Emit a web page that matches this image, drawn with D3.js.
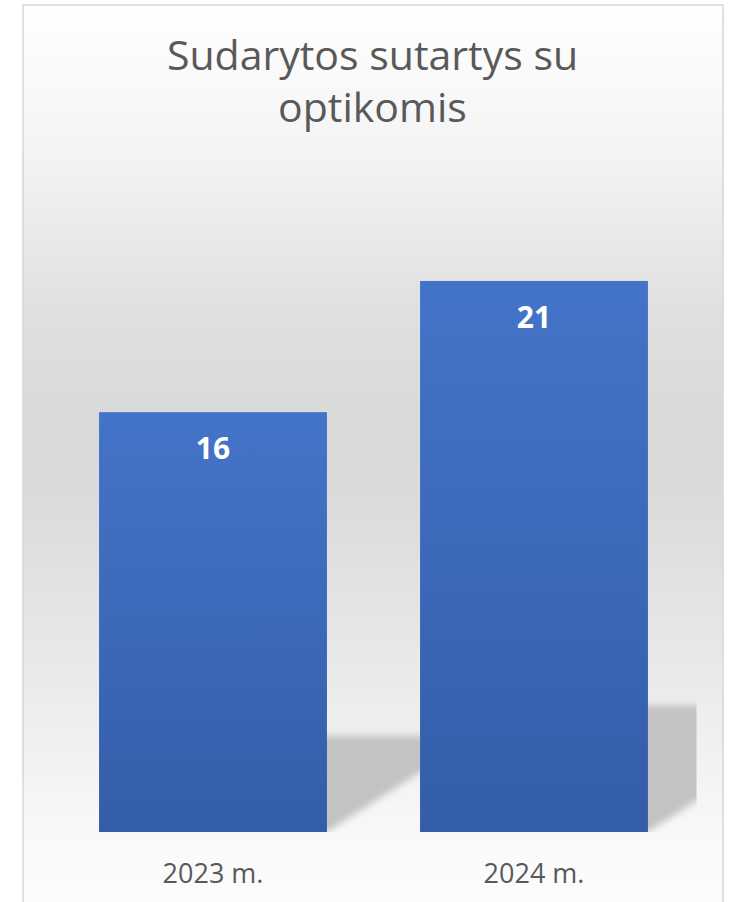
<!DOCTYPE html>
<html>
<head>
<meta charset="utf-8">
<script src="https://cdn.jsdelivr.net/npm/d3@7"></script>
<style>
  html, body { margin: 0; padding: 0; background: #ffffff; }
  svg { display: block; }
</style>
</head>
<body>
<script>
// ---- data ----
const titleLines = ["Sudarytos sutartys su", "optikomis"];
const categories = ["2023 m.", "2024 m."];
const values = [16, 21];
const yDomain = [0, 25];

// ---- layout ----
const W = 732, H = 902;
const frame = { x: 23, y: 5, w: 700, h: 920 };
const plot = { left: 52.5, right: 694.5, top: 176, bottom: 832 };

const svg = d3.select("body").append("svg")
  .attr("width", W).attr("height", H);

const defs = svg.append("defs");

// background gradient (vertical, user space)
const bg = defs.append("linearGradient").attr("id", "bg")
  .attr("gradientUnits", "userSpaceOnUse")
  .attr("x1", 0).attr("x2", 0).attr("y1", 5).attr("y2", 902);
[[5, "#ffffff"], [150, "#f4f4f4"], [300, "#e1e1e1"], [420, "#d9d9d9"], [500, "#dbdbdb"],
 [650, "#e8e8e8"], [730, "#efefef"], [850, "#fafafa"], [902, "#fcfcfc"]]
  .forEach(([y, c]) => bg.append("stop").attr("offset", ((y - 5) / 897)).attr("stop-color", c));

// bar gradient
const bargrad = defs.append("linearGradient").attr("id", "bargrad")
  .attr("x1", 0).attr("x2", 0).attr("y1", 0).attr("y2", 1);
bargrad.append("stop").attr("offset", 0).attr("stop-color", "#4474c8");
bargrad.append("stop").attr("offset", 1).attr("stop-color", "#345da8");

// shadow blur
const blur = defs.append("filter").attr("id", "blur")
  .attr("x", "-20%").attr("y", "-20%").attr("width", "140%").attr("height", "140%");
blur.append("feGaussianBlur").attr("stdDeviation", 3.5);

// clip to plot area
defs.append("clipPath").attr("id", "plotclip")
  .append("rect")
  .attr("x", plot.left).attr("y", plot.top)
  .attr("width", plot.right - plot.left + 2).attr("height", plot.bottom - plot.top);

// frame
svg.append("rect")
  .attr("x", frame.x).attr("y", frame.y)
  .attr("width", frame.w).attr("height", frame.h)
  .attr("fill", "url(#bg)")
  .attr("stroke", "#d6d6d6").attr("stroke-width", 1.5);

// scales
const x = d3.scaleBand().domain(categories)
  .range([plot.left, plot.right])
  .paddingInner(0.29).paddingOuter(0.145);
const y = d3.scaleLinear().domain(yDomain).range([plot.bottom, plot.top]);

const data = categories.map((c, i) => ({ cat: c, val: values[i] }));

// perspective shadows
const shadowRatio = 0.23, slope = 0.64;
const sg = svg.append("g").attr("clip-path", "url(#plotclip)");
sg.selectAll("path.shadow").data(data).enter().append("path")
  .attr("class", "shadow")
  .attr("fill", "#c3c3c3")
  .attr("filter", "url(#blur)")
  .attr("d", d => {
    const x0 = x(d.cat), x1 = x0 + x.bandwidth();
    const base = y(0);
    const hs = shadowRatio * (base - y(d.val));
    const k = hs / slope;
    return `M${x0},${base}L${x1},${base}L${x1 + k},${base - hs}L${x0 + k},${base - hs}Z`;
  });

// bars
svg.selectAll("rect.bar").data(data).enter().append("rect")
  .attr("class", "bar")
  .attr("x", d => x(d.cat))
  .attr("y", d => y(d.val))
  .attr("width", x.bandwidth())
  .attr("height", d => y(0) - y(d.val))
  .attr("fill", "url(#bargrad)");

// value labels
svg.selectAll("text.val").data(data).enter().append("text")
  .attr("class", "val")
  .attr("x", d => x(d.cat) + x.bandwidth() / 2)
  .attr("y", d => y(d.val) + 47)
  .attr("text-anchor", "middle")
  .attr("font-family", "'Open Sans', sans-serif")
  .attr("font-weight", 700)
  .attr("font-size", 30)
  .attr("fill", "#ffffff")
  .text(d => d.val);

// category axis labels
const xAxis = d3.axisBottom(x).tickSize(0).tickPadding(0);
const ax = svg.append("g").attr("transform", `translate(0,${plot.bottom})`).call(xAxis);
ax.select(".domain").remove();
ax.selectAll("text")
  .attr("y", 51).attr("dy", null)
  .attr("font-family", "'Open Sans', sans-serif")
  .attr("font-size", 27)
  .attr("fill", "#595959");

// title
svg.append("g").selectAll("text").data(titleLines).enter().append("text")
  .attr("x", (frame.x + frame.x + frame.w) / 2 - 0.5)
  .attr("y", (d, i) => 70 + i * 52)
  .attr("text-anchor", "middle")
  .attr("font-family", "'Open Sans', sans-serif")
  .attr("font-size", 41)
  .attr("fill", "#595959")
  .text(d => d);
</script>
</body>
</html>
